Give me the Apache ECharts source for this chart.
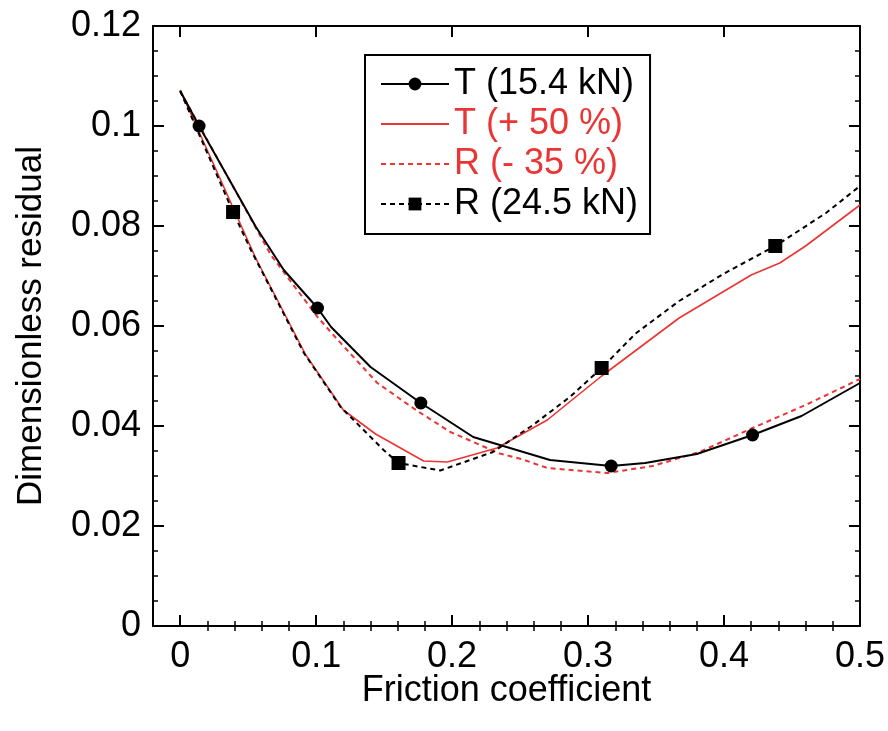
<!DOCTYPE html>
<html><head><meta charset="utf-8">
<script src="https://cdn.jsdelivr.net/npm/echarts@6/dist/echarts.min.js"></script>
<style>html,body{margin:0;padding:0;background:#fff}#c{width:888px;height:731px}</style>
</head><body><div id="c"></div>
<script>
// ---- data ----
const seriesNames = ['T (15.4 kN)', 'T (+ 50 %)', 'R (- 35 %)', 'R (24.5 kN)'];

const t15X = [0, 0.0139, 0.0557, 0.0762, 0.101, 0.111, 0.140, 0.177, 0.2155, 0.272, 0.317, 0.342, 0.380, 0.421, 0.457, 0.5];
const t15Y = [0.107, 0.100, 0.0798, 0.0712, 0.0636, 0.0598, 0.0518, 0.0446, 0.0378, 0.0332, 0.0320, 0.0326, 0.0344, 0.0382, 0.0420, 0.0486];
const t15Marks = [1, 4, 7, 10, 13];

const t50X = [0, 0.0557, 0.0924, 0.120, 0.1437, 0.179, 0.1965, 0.233, 0.270, 0.310, 0.367, 0.420, 0.441, 0.460, 0.5];
const t50Y = [0.1072, 0.0735, 0.0542, 0.0432, 0.0384, 0.0330, 0.0328, 0.0356, 0.0412, 0.0500, 0.0616, 0.0702, 0.0726, 0.0760, 0.0842];

const r35X = [0, 0.0667, 0.101, 0.116, 0.145, 0.1745, 0.1987, 0.235, 0.252, 0.270, 0.314, 0.3475, 0.382, 0.421, 0.460, 0.5];
const r35Y = [0.107, 0.0742, 0.0618, 0.0572, 0.0486, 0.0430, 0.0388, 0.0345, 0.0333, 0.0316, 0.0306, 0.0320, 0.0348, 0.0396, 0.0442, 0.0494];

const r24X = [0, 0.0389, 0.052, 0.091, 0.118, 0.1496, 0.1606, 0.1913, 0.230, 0.2595, 0.2866, 0.310, 0.335, 0.367, 0.400, 0.4377, 0.475, 0.5];
const r24Y = [0.107, 0.0828, 0.0752, 0.0546, 0.0438, 0.0352, 0.0326, 0.0311, 0.0348, 0.0402, 0.0458, 0.0516, 0.0585, 0.0650, 0.0705, 0.0760, 0.0826, 0.0880];
const r24Marks = [1, 6, 11, 15];

const xTickValues = [0, 0.1, 0.2, 0.3, 0.4, 0.5];
const xMin = -0.02, xMax = 0.5;
const yMin = 0, yMax = 0.12, yInterval = 0.02;

// ---- build ----
const FONT = '"Liberation Sans", Arial, Helvetica, sans-serif';
const RED = '#eb3434';
const FS = 36;
const xMinor = [];
for (let i = 1; i < 25; i++) { if (i % 5 !== 0) xMinor.push(Math.round(i * 0.02 * 1000) / 1000); }

function pts(xs, ys, marks) {
  return xs.map((x, i) => {
    const it = { value: [x, ys[i]] };
    if (marks) { if (marks.indexOf(i) < 0) it.symbol = 'none'; }
    return it;
  });
}

const axisLineStyle = { show: true, onZero: false, lineStyle: { color: '#000', width: 2 } };

function xAxisMajor(pos, labels) {
  return {
    type: 'value', position: pos, min: xMin, max: xMax,
    axisLine: axisLineStyle,
    axisTick: { show: true, inside: true, length: 11, customValues: xTickValues, lineStyle: { color: '#000', width: 2 } },
    axisLabel: { show: labels, customValues: xTickValues, fontSize: FS, color: '#000', fontFamily: FONT, margin: 13 },
    splitLine: { show: false },
    name: labels ? 'Friction coefficient' : '', nameLocation: 'middle', nameGap: 47, nameMoveOverlap: false,
    nameTextStyle: { fontSize: FS, color: '#000', fontFamily: FONT }
  };
}
function xAxisMinor(pos) {
  return {
    type: 'value', position: pos, min: xMin, max: xMax,
    axisLine: { show: false },
    axisTick: { show: true, inside: true, length: 5, customValues: xMinor, lineStyle: { color: '#000', width: 1.5 } },
    axisLabel: { show: false }, splitLine: { show: false }
  };
}
function yAxisDef(pos, labels) {
  return {
    type: 'value', position: pos, min: yMin, max: yMax, interval: yInterval,
    axisLine: axisLineStyle,
    axisTick: { show: true, inside: true, length: 11, lineStyle: { color: '#000', width: 2 } },
    minorTick: { show: true, splitNumber: 4, length: 5, lineStyle: { color: '#000', width: 1.5 } },
    axisLabel: { show: labels, fontSize: FS, color: '#000', fontFamily: FONT, margin: 12 },
    splitLine: { show: false }, minorSplitLine: { show: false },
    name: labels ? 'Dimensionless residual' : '', nameLocation: 'middle', nameGap: 104, nameRotate: 90, nameMoveOverlap: false,
    nameTextStyle: { fontSize: 35, color: '#000', fontFamily: FONT }
  };
}

const hiddenMark = { color: 'rgba(0,0,0,0)', borderWidth: 0, opacity: 0 };

const option = {
  animation: false,
  backgroundColor: '#fff',
  grid: { left: 153, right: 26, top: 26, bottom: 105, containLabel: false },
  xAxis: [xAxisMajor('bottom', true), xAxisMinor('bottom'), xAxisMajor('top', false), xAxisMinor('top')],
  yAxis: [yAxisDef('left', true), yAxisDef('right', false)],
  legend: {
    orient: 'vertical', left: 365, top: 55,
    padding: [10, 12, 11, 15], itemGap: 2, itemWidth: 68, itemHeight: 16,
    borderColor: '#000', borderWidth: 2, backgroundColor: '#fff',
    textStyle: { fontSize: FS, fontFamily: FONT, color: '#000', lineHeight: 38 },
    data: [
      { name: seriesNames[0] },
      { name: seriesNames[1], textStyle: { color: RED }, itemStyle: hiddenMark },
      { name: seriesNames[2], textStyle: { color: RED }, itemStyle: hiddenMark },
      { name: seriesNames[3] }
    ]
  },
  series: [
    { name: seriesNames[1], type: 'line', data: pts(t50X, t50Y), symbol: 'none', z: 3,
      lineStyle: { color: RED, width: 1.6 }, itemStyle: { color: RED } },
    { name: seriesNames[2], type: 'line', data: pts(r35X, r35Y), symbol: 'none', z: 3,
      lineStyle: { color: RED, width: 2, type: [5, 4] }, itemStyle: { color: RED } },
    { name: seriesNames[0], type: 'line', data: pts(t15X, t15Y, t15Marks), symbol: 'circle', symbolSize: 13, showAllSymbol: true, z: 4,
      lineStyle: { color: '#000', width: 2 }, itemStyle: { color: '#000' } },
    { name: seriesNames[3], type: 'line', data: pts(r24X, r24Y, r24Marks), symbol: 'rect', symbolSize: 14, showAllSymbol: true, z: 4,
      lineStyle: { color: '#000', width: 2, type: [5, 4] }, itemStyle: { color: '#000' } }
  ]
};
const chart = echarts.init(document.getElementById('c'), null, { renderer: 'canvas' });
chart.setOption(option);
</script>
</body></html>
